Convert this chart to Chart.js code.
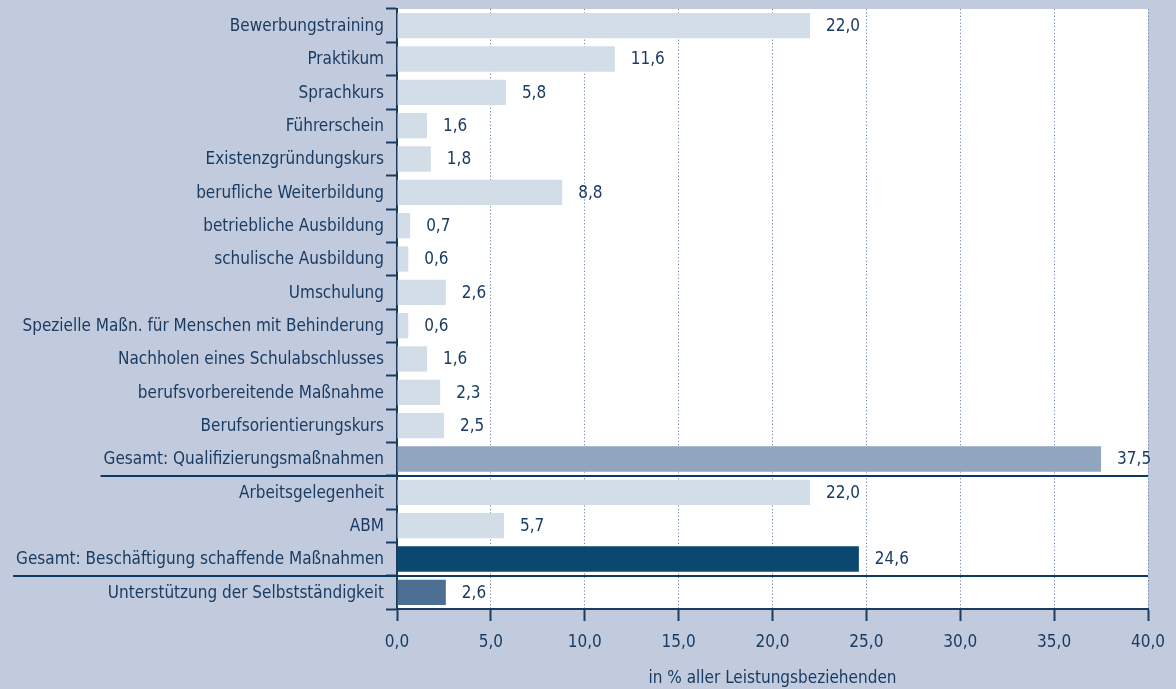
<!DOCTYPE html>
<html>
<head>
<meta charset="utf-8">
<script src="https://cdn.jsdelivr.net/npm/chart.js@4/dist/chart.umd.min.js"></script>
<style>
  html, body { margin: 0; padding: 0; background: #c1cbdd; }
  canvas { display: block; }
</style>
</head>
<body>
<canvas id="chart" width="1176" height="689"></canvas>
<script>
// Data
const categories = [
  'Bewerbungstraining',
  'Praktikum',
  'Sprachkurs',
  'Führerschein',
  'Existenzgründungskurs',
  'berufliche Weiterbildung',
  'betriebliche Ausbildung',
  'schulische Ausbildung',
  'Umschulung',
  'Spezielle Maßn. für Menschen mit Behinderung',
  'Nachholen eines Schulabschlusses',
  'berufsvorbereitende Maßnahme',
  'Berufsorientierungskurs',
  'Gesamt: Qualifizierungsmaßnahmen',
  'Arbeitsgelegenheit',
  'ABM',
  'Gesamt: Beschäftigung schaffende Maßnahmen',
  'Unterstützung der Selbstständigkeit'
];
const shares = [22.0, 11.6, 5.8, 1.6, 1.8, 8.8, 0.7, 0.6, 2.6, 0.6, 1.6, 2.3, 2.5, 37.5, 22.0, 5.7, 24.6, 2.6];
const xTicks = [0, 5, 10, 15, 20, 25, 30, 35, 40];
const axisTitle = 'in % aller Leistungsbeziehenden';
// index of rows that close a group (line drawn under them)
const groupEnds = [13, 16];

// Styles
const textColor = '#1b3c62';
const lightBar = '#d3dde8';
const barColors = shares.map((v, i) => {
  if (i === 13) return '#91a5bf';
  if (i === 16) return '#0b4870';
  if (i === 17) return '#4c6e93';
  return lightBar;
});
const fontFamily = "'Liberation Sans Narrow', 'DejaVu Sans Condensed', 'Open Sans', sans-serif";
const fontSize = 17;

const fmt = v => v.toFixed(1).replace('.', ',');

// chart area white background
const bgPlugin = {
  id: 'bg',
  beforeDraw(chart) {
    const { ctx, chartArea: a } = chart;
    ctx.save();
    ctx.fillStyle = '#ffffff';
    ctx.fillRect(a.left, a.top, a.right - a.left, a.bottom - a.top);
    ctx.restore();
  }
};

// value labels right of bars
const valuePlugin = {
  id: 'values',
  afterDatasetsDraw(chart) {
    const { ctx } = chart;
    const meta = chart.getDatasetMeta(0);
    ctx.save();
    ctx.font = fontSize + 'px ' + fontFamily;
    ctx.fillStyle = textColor;
    ctx.textAlign = 'left';
    ctx.textBaseline = 'middle';
    meta.data.forEach((bar, i) => {
      ctx.fillText(fmt(shares[i]), bar.x + 16, bar.y + 1);
    });
    ctx.restore();
  }
};

// group separator lines
const groupPlugin = {
  id: 'groups',
  afterDraw(chart) {
    const { ctx, chartArea: a } = chart;
    const y = chart.scales.y;
    ctx.save();
    ctx.font = fontSize + 'px ' + fontFamily;
    ctx.strokeStyle = '#0d3a63';
    ctx.lineWidth = 2;
    groupEnds.forEach(i => {
      const w = ctx.measureText(categories[i]).width;
      const yy = Math.round((y.getPixelForValue(i) + y.getPixelForValue(i + 1)) / 2);
      ctx.beginPath();
      ctx.moveTo(a.left - 13 - w - 3, yy);
      ctx.lineTo(a.right, yy);
      ctx.stroke();
    });
    ctx.restore();
  }
};

new Chart(document.getElementById('chart'), {
  type: 'bar',
  data: {
    labels: categories,
    datasets: [{
      data: shares,
      backgroundColor: barColors,
      categoryPercentage: 0.76,
      barPercentage: 1.0,
      borderWidth: 0
    }]
  },
  options: {
    indexAxis: 'y',
    responsive: false,
    animation: false,
    layout: { padding: { top: 9, right: 28, bottom: 0, left: 0 } },
    plugins: {
      legend: { display: false },
      tooltip: { enabled: false }
    },
    scales: {
      x: {
        min: 0,
        max: 40,
        afterBuildTicks: s => { s.ticks = xTicks.map(v => ({ value: v })); },
        afterFit: s => { s.height = 80; s.paddingLeft = 0; s.paddingRight = 0; },
        ticks: {
          color: textColor,
          font: { family: fontFamily, size: fontSize },
          padding: 11,
          maxRotation: 0,
          callback: v => fmt(v)
        },
        grid: {
          color: '#6f86ab',
          lineWidth: 1,
          drawTicks: true,
          tickLength: 12,
          tickColor: textColor,
          tickWidth: 2
        },
        border: { color: textColor, width: 2, dash: [1.2, 2.2] },
        title: {
          display: true,
          text: axisTitle,
          color: textColor,
          font: { family: fontFamily, size: fontSize },
          padding: { top: 0, bottom: 0 }
        }
      },
      y: {
        afterFit: s => { s.width = 397; s.paddingTop = 0; s.paddingBottom = 0; },
        ticks: {
          color: textColor,
          font: { family: fontFamily, size: fontSize },
          padding: 2,
          labelOffset: 1,
          autoSkip: false
        },
        grid: {
          offset: true,
          drawOnChartArea: false,
          drawTicks: true,
          tickLength: 11,
          tickColor: textColor,
          tickWidth: 2
        },
        border: { color: textColor, width: 2 }
      }
    }
  },
  plugins: [bgPlugin, valuePlugin, groupPlugin]
});
</script>
</body>
</html>
